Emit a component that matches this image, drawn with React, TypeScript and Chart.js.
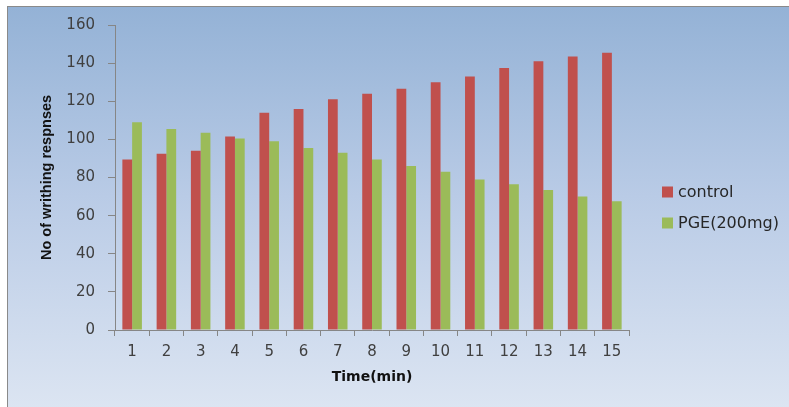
import React, { useEffect, useRef } from "react";
import { Chart, registerables } from "chart.js";

Chart.register(...registerables);

const categories = ["1", "2", "3", "4", "5", "6", "7", "8", "9", "10", "11", "12", "13", "14", "15"];
const controlValues = [89.5, 92.5, 94, 101.5, 114, 116, 121, 124, 126.5, 130, 133, 137.5, 141, 143.5, 145.5];
const pgeValues = [109, 105.5, 103.5, 100.5, 99, 95.5, 93, 89.5, 86, 83, 79, 76.5, 73.5, 70, 67.5];
const seriesLabels = ["control", "PGE(200mg)"];
const seriesColors = ["#C0504D", "#9BBB59"];
const yMin = 0;
const yMax = 160;
const yStep = 20;
const xTitle = "Time(min)";
const yTitle = "No of writhing respnses";

const sideLegend = {
  id: "sideLegend",
  afterDraw(chart: any) {
    const { ctx, chartArea } = chart;
    const x = chartArea.right + 33;
    ctx.save();
    chart.data.datasets.forEach((ds: any, i: number) => {
      const y = 192 + i * 31;
      ctx.fillStyle = ds.backgroundColor;
      ctx.fillRect(x, y - 5.5, 11, 11);
      ctx.fillStyle = "#262626";
      ctx.font = "16px 'DejaVu Sans'";
      ctx.textBaseline = "middle";
      ctx.textAlign = "left";
      ctx.fillText(ds.label, x + 16, y + 1);
    });
    ctx.restore();
  },
};

export default function App() {
  const ref = useRef<HTMLCanvasElement | null>(null);
  useEffect(() => {
    if (!ref.current) return;
    const axisColor = "#868686";
    const chart = new Chart(ref.current, {
      type: "bar",
      data: {
        labels: categories,
        datasets: [
          { label: seriesLabels[0], data: controlValues, backgroundColor: seriesColors[0], categoryPercentage: 0.57, barPercentage: 1 },
          { label: seriesLabels[1], data: pgeValues, backgroundColor: seriesColors[1], categoryPercentage: 0.57, barPercentage: 1 },
        ],
      },
      options: {
        responsive: false,
        animation: false,
        devicePixelRatio: 1,
        layout: { padding: { top: 25, right: 160, bottom: 0, left: 0 } },
        plugins: { legend: { display: false }, tooltip: { enabled: false } },
        scales: {
          x: {
            offset: true,
            grid: { offset: true, drawOnChartArea: false, drawTicks: true, tickLength: 6, color: axisColor },
            border: { color: axisColor },
            ticks: { color: "#404040", font: { family: "DejaVu Sans", size: 15 }, padding: 7, maxRotation: 0 },
            title: {
              display: true,
              text: xTitle,
              color: "#111111",
              font: { family: "DejaVu Sans", weight: "bold", size: 14 },
              padding: { top: 0, bottom: 21 },
            },
            afterFit: (s: any) => {
              s.height = 77;
            },
          },
          y: {
            min: yMin,
            max: yMax,
            grid: { drawOnChartArea: false, drawTicks: true, tickLength: 7, color: axisColor },
            border: { color: axisColor },
            ticks: { stepSize: yStep, color: "#404040", font: { family: "DejaVu Sans", size: 15 }, padding: 13 },
            title: {
              display: true,
              text: yTitle,
              color: "#111111",
              font: { family: "Liberation Sans", weight: "bold", size: 14.5 },
              padding: { top: 38, bottom: 0 },
            },
            afterFit: (s: any) => {
              s.width = 115;
            },
          },
        },
      },
      plugins: [sideLegend],
    });
    return () => chart.destroy();
  }, []);

  return (
    <div style={{ position: "fixed", left: 0, top: 0, width: 789, height: 407, background: "#ffffff", overflow: "hidden" }}>
      <div
        style={{
          position: "absolute",
          left: 7,
          top: 6,
          width: 800,
          height: 420,
          borderLeft: "1px solid #8a8a8a",
          borderTop: "1px solid #8a8a8a",
          background: "linear-gradient(to bottom, #94b2d6 0%, #b9cbe6 45%, #dfe7f3 100%)",
        }}
      />
      <canvas ref={ref} width={789} height={407} style={{ position: "absolute", left: 0, top: 0 }} />
    </div>
  );
}
